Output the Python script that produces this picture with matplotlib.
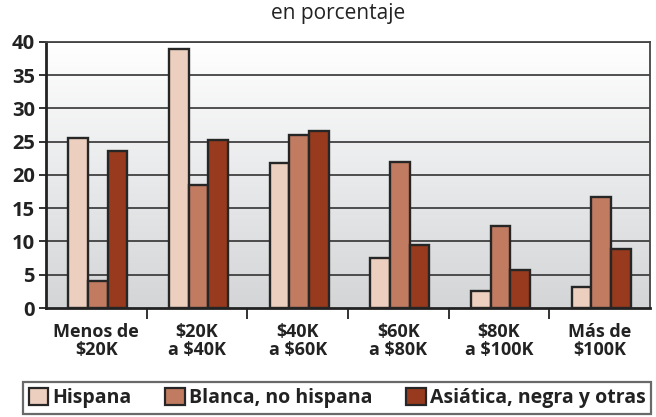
import numpy as np
import matplotlib
matplotlib.use("Agg")
import matplotlib.pyplot as plt
from matplotlib.patches import Patch
from matplotlib.colors import LinearSegmentedColormap

categories = ["Menos de\n$20K", "$20K\na $40K", "$40K\na $60K", "$60K\na $80K", "$80K\na $100K", "Más de\n$100K"]
series_names = ["Hispana", "Blanca, no hispana", "Asiática, negra y otras"]
hispana = [25.6, 39.0, 21.8, 7.5, 2.6, 3.1]
blanca = [4.0, 18.5, 26.0, 22.0, 12.4, 16.7]
asiatica = [23.6, 25.3, 26.6, 9.4, 5.7, 8.9]
yticks = [0, 5, 10, 15, 20, 25, 30, 35, 40]
title = "en porcentaje"

colors = ["#eccfbf", "#c17b61", "#983a1d"]
edge = "#262626"

plt.rcParams['font.family'] = ['Open Sans', 'DejaVu Sans']

fig = plt.figure(figsize=(6.56, 4.17), dpi=100)
ax = fig.add_axes([46/656, 1-308/417, (650-46)/656, (308-42)/417])

n = len(categories)
x = np.arange(n)
w = 0.195
# background gradient: white at top, light gray at bottom
grad = np.linspace(1, 0, 256).reshape(-1, 1)
cmap = LinearSegmentedColormap.from_list("bg", ["#ffffff", "#d3d5d7"])
ax.imshow(grad, extent=(-0.5, n-0.5, 0, 40), aspect='auto', cmap=cmap, zorder=0, origin='lower')

for yv in yticks[1:]:
    ax.axhline(yv, color="#333333", lw=1.2, zorder=1)

for i, (vals, c) in enumerate(zip([hispana, blanca, asiatica], colors)):
    ax.bar(x + (i-1)*w + 0.015, vals, width=w, color=c, edgecolor=edge, linewidth=1.7, zorder=3)

ax.set_xlim(-0.5, n-0.5)
ax.set_ylim(0, 40)
ax.set_yticks(yticks)
ax.set_yticklabels([str(v) for v in yticks], fontsize=14.5, fontweight='bold', color="#222222")
ax.set_xticks(x)
ax.set_xticklabels(categories, fontsize=13, fontweight='bold', color="#222222", linespacing=1.0)
ax.tick_params(axis='x', length=0, pad=11)
ax.set_xticks(np.arange(n-1) + 0.5, minor=True)
ax.tick_params(axis='x', which='minor', length=8, width=1.3, color="#222222", direction='out')
ax.tick_params(axis='y', length=5, width=1.3, color="#222222", pad=3)
for s in ['left', 'bottom']:
    ax.spines[s].set_color("#222222")
    ax.spines[s].set_linewidth(2)
for s in ['right', 'top']:
    ax.spines[s].set_color("#444444")
    ax.spines[s].set_linewidth(1.3)

fig.text(338/656, 1-14/417, title, ha='center', va='center', fontsize=15, color="#222222")

handles = [Patch(facecolor=c, edgecolor=edge, linewidth=1.6) for c in colors]
leg = fig.legend(handles, series_names, loc='center', bbox_to_anchor=(337/656, 1-398/417), ncol=3,
                 frameon=True, fancybox=False, edgecolor="#444444", handlelength=1.0, handleheight=1.0,
                 handletextpad=0.2, columnspacing=1.75, borderpad=0.3,
                 prop={'weight': 'bold', 'size': 14})
leg.get_frame().set_linewidth(1.6)
for t in leg.get_texts():
    t.set_color("#222222")

fig.savefig("out.png", dpi=100)
